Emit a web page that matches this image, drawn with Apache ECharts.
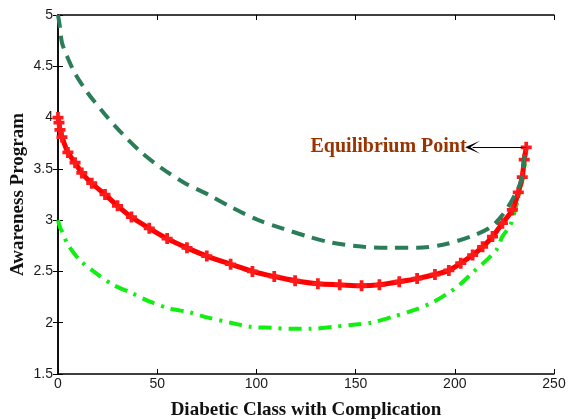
<!DOCTYPE html>
<html>
<head>
<meta charset="utf-8">
<script src="https://cdn.jsdelivr.net/npm/echarts@6/dist/echarts.min.js"></script>
<style>
  html, body { margin: 0; padding: 0; background: #fff; }
  #chart { width: 568px; height: 419px; }
</style>
</head>
<body>
<div id="chart"></div>
<script>
// Trajectories of awareness program vs diabetic class with complication
const upperX = [0, 1, 2, 4.5, 8.6, 15, 23.7, 32, 42, 52, 64, 75.6, 88, 101, 113, 126, 138, 154, 169, 181, 194, 208, 218, 224, 229, 233, 234.5, 235.5, 236];
const upperY = [5.0, 4.88, 4.73, 4.6, 4.43, 4.24, 4.03, 3.85, 3.66, 3.51, 3.36, 3.25, 3.12, 3.0, 2.92, 2.84, 2.78, 2.74, 2.73, 2.73, 2.76, 2.84, 2.93, 3.05, 3.2, 3.36, 3.52, 3.68, 3.71];

const midX = [0, 0.5, 1, 2, 5, 8.6, 12, 17, 23.7, 30, 37, 46, 55, 65, 75, 87, 98, 109, 119.5, 131, 142, 153, 162, 172, 181, 190, 197, 203, 209, 214, 219, 224, 229, 232, 234, 235, 236];
const midY = [4.0, 3.95, 3.88, 3.81, 3.66, 3.56, 3.46, 3.36, 3.25, 3.14, 3.03, 2.92, 2.82, 2.73, 2.65, 2.57, 2.50, 2.45, 2.41, 2.38, 2.37, 2.36, 2.37, 2.40, 2.43, 2.47, 2.51, 2.58, 2.66, 2.74, 2.84, 2.97, 3.1, 3.27, 3.42, 3.59, 3.71];

const lowerX = [0, 1, 2, 5, 11, 18.6, 27.7, 37, 47, 56, 66.5, 75.6, 87, 97, 108, 117, 127, 139, 149, 158, 169, 179, 188, 196, 203, 209, 216, 221, 224, 228, 230, 233, 235, 236];
const lowerY = [3.0, 2.93, 2.89, 2.76, 2.61, 2.49, 2.37, 2.29, 2.20, 2.14, 2.10, 2.05, 2.0, 1.96, 1.95, 1.94, 1.94, 1.96, 1.98, 2.0, 2.06, 2.12, 2.19, 2.28, 2.38, 2.49, 2.61, 2.71, 2.84, 2.95, 3.07, 3.3, 3.5, 3.71];

const equilibrium = [236, 3.71];
const arrowTipX = 209;
const xTicks = [0, 250, 50];      // min, max, interval
const yTicks = [1.5, 5, 0.5];

const zip = (xs, ys) => xs.map((x, i) => [x, ys[i]]);

const chart = echarts.init(document.getElementById('chart'), null, { renderer: 'canvas' });

const tickFont = { fontFamily: 'Liberation Sans', fontSize: 14, color: '#1a1a1a' };
const nameFont = { fontFamily: 'Liberation Serif', fontSize: 19, fontWeight: 'bold', color: '#111' };
const frameLine = { show: true, lineStyle: { color: '#000', width: 1.5 } };
const innerTick = { show: true, inside: true, length: 5, lineStyle: { color: '#000', width: 1 } };

chart.setOption({
  animation: false,
  backgroundColor: '#fff',
  grid: { left: 58, right: 14, top: 15, bottom: 45, containLabel: false, outerBoundsMode: 'none' },
  xAxis: [
    {
      type: 'value', min: xTicks[0], max: xTicks[1], interval: xTicks[2],
      name: 'Diabetic Class with Complication', nameLocation: 'middle', nameGap: 27,
      nameMoveOverlap: false,
      nameTextStyle: nameFont,
      axisLine: frameLine, axisTick: innerTick,
      axisLabel: Object.assign({ margin: 3 }, tickFont),
      splitLine: { show: false }
    },
    {
      type: 'value', position: 'top', min: xTicks[0], max: xTicks[1], interval: xTicks[2],
      axisLine: frameLine, axisTick: innerTick, axisLabel: { show: false }, splitLine: { show: false }
    }
  ],
  yAxis: [
    {
      type: 'value', min: yTicks[0], max: yTicks[1], interval: yTicks[2],
      name: 'Awareness Program', nameLocation: 'middle', nameGap: 30,
      nameMoveOverlap: false,
      nameTextStyle: nameFont,
      axisLine: frameLine, axisTick: innerTick,
      axisLabel: Object.assign({ margin: 5 }, tickFont),
      splitLine: { show: false }
    },
    {
      type: 'value', position: 'right', min: yTicks[0], max: yTicks[1], interval: yTicks[2],
      axisLine: frameLine, axisTick: innerTick, axisLabel: { show: false }, splitLine: { show: false }
    }
  ],
  series: [
    {
      type: 'line', data: zip(lowerX, lowerY), smooth: 0.3, showSymbol: false,
      lineStyle: { color: '#11ee11', width: 4, type: [13, 7, 3, 7], cap: 'butt' },
      z: 2
    },
    {
      type: 'line', data: zip(midX, midY), smooth: 0.3,
      symbol: 'path://M3.3,0H6.7V3.3H10V6.7H6.7V10H3.3V6.7H0V3.3H3.3Z', symbolSize: 11,
      showSymbol: true,
      itemStyle: { color: '#ff1a1a' },
      lineStyle: { color: '#ff0000', width: 5 },
      markLine: {
        silent: true, animation: false,
        symbol: ['none', 'path://M5,0L10,10L5,3.5L0,10Z'], symbolSize: [13, 15],
        lineStyle: { color: '#000', width: 1.2, type: 'solid' },
        label: { show: false },
        data: [[{ coord: equilibrium }, { coord: [arrowTipX, equilibrium[1]] }]]
      },
      z: 3
    },
    {
      type: 'line', data: zip(upperX, upperY), smooth: 0.3, showSymbol: false,
      lineStyle: { color: '#2a7d58', width: 4, type: [13, 8], cap: 'butt' },
      z: 4
    }
  ]
});

// Label for the equilibrium arrow, placed through the chart's own coordinate system
const tip = chart.convertToPixel({ gridIndex: 0 }, [arrowTipX, equilibrium[1]]);
chart.setOption({
  graphic: [{
    type: 'text', x: tip[0] - 6, y: tip[1], z: 10,
    style: {
      text: 'Equilibrium Point', fill: '#993300',
      font: 'bold 20px "Liberation Serif"',
      textAlign: 'right', textVerticalAlign: 'middle'
    }
  }]
});
</script>
</body>
</html>
